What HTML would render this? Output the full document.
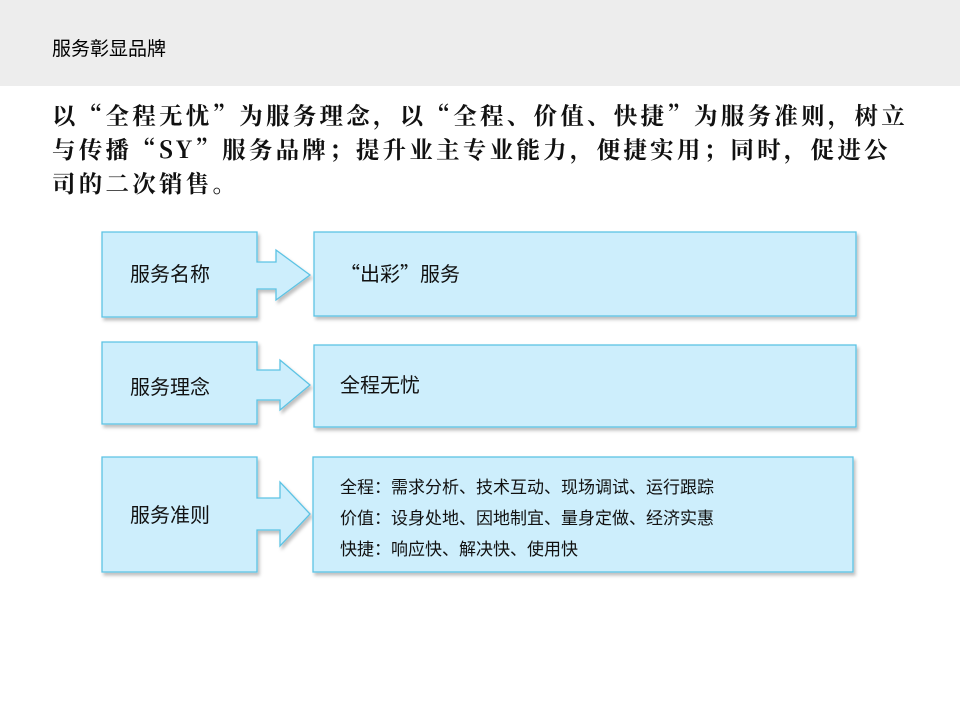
<!DOCTYPE html>
<html><head><meta charset="utf-8"><style>
body{margin:0;width:960px;height:720px;background:#fff;position:relative;overflow:hidden;font-family:"Noto Sans CJK SC",sans-serif;}
.hdr{position:absolute;left:0;top:0;width:960px;height:86px;background:#ededed;}
.hdr span{position:absolute;left:52px;top:34px;font-size:19px;color:#000;}
.intro{position:absolute;left:52px;top:97px;white-space:nowrap;font-size:23.5px;letter-spacing:3.25px;line-height:34px;font-weight:bold;color:#111;font-family:"Noto Serif CJK SC",serif;}
.t{position:absolute;font-size:20px;color:#111;line-height:28px;}
.s{position:absolute;font-size:17px;color:#111;line-height:31px;}
</style></head><body>
<div class="hdr"><span>服务彰显品牌</span></div>
<div class="intro">以“全程无忧”为服务理念，以“全程、价值、快捷”为服务准则，树立<br>与传播“SY”服务品牌；提升业主专业能力，便捷实用；同时，促进公<br>司的二次销售。</div>
<svg width="960" height="720" style="position:absolute;left:0;top:0">
<defs><filter id="sh" x="-10%" y="-10%" width="130%" height="130%"><feDropShadow dx="2" dy="3" stdDeviation="1.5" flood-color="#000" flood-opacity="0.25"/></filter></defs>
<g fill="#cdeefc" stroke="#5cc3e4" stroke-width="1.3" filter="url(#sh)">
<path d="M102 232H257V262H276V250L310 275L276 300V289H257V317H102Z"/>
<rect x="314" y="232" width="542" height="84"/>
<path d="M102 342H257V370H280V360L310 385L280 410V400H257V424H102Z"/>
<rect x="314" y="345" width="542" height="82"/>
<path d="M102 457H257V498H280V482L310 514L280 546V530H257V572H102Z"/>
<rect x="313" y="457" width="540" height="115"/>
</g></svg>
<div class="t" style="left:130px;top:259px">服务名称</div>
<div class="t" style="left:340px;top:259px">“出彩”服务</div>
<div class="t" style="left:130px;top:372px">服务理念</div>
<div class="t" style="left:340px;top:370px">全程无忧</div>
<div class="t" style="left:130px;top:500px">服务准则</div>
<div class="s" style="left:340px;top:470px">全程：需求分析、技术互动、现场调试、运行跟踪<br>价值：设身处地、因地制宜、量身定做、经济实惠<br>快捷：响应快、解决快、使用快</div>
</body></html>
